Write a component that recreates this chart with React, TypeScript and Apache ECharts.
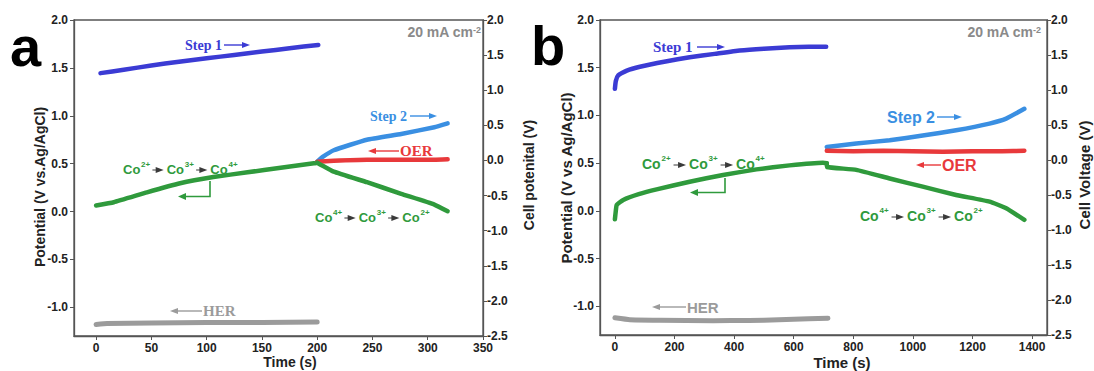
import { useEffect, useRef } from "react";
import * as echarts from "echarts";

// ---- Panel a: short galvanostatic run (time in s, potential in V vs Ag/AgCl) ----
const aStep1: [number, number][] = [
  [4, 1.445], [25, 1.48], [50, 1.525], [75, 1.565], [100, 1.6],
  [125, 1.635], [150, 1.67], [175, 1.705], [201, 1.74],
];
const aCharge: [number, number][] = [
  [0, 0.063], [16, 0.097], [46, 0.2], [76, 0.295], [106, 0.36],
  [137, 0.41], [167, 0.456], [197, 0.504], [200, 0.51],
];
const aHER: [number, number][] = [
  [0, -1.18], [10, -1.17], [50, -1.165], [100, -1.16], [150, -1.158], [200, -1.155],
];
const aStep2: [number, number][] = [
  [200, 0.52], [205, 0.57], [215, 0.64], [245, 0.75], [276, 0.81], [306, 0.88], [318, 0.92],
];
const aOER: [number, number][] = [
  [200, 0.52], [215, 0.53], [245, 0.54], [276, 0.54], [306, 0.54], [318, 0.545],
];
const aDischarge: [number, number][] = [
  [200, 0.51], [215, 0.417], [245, 0.306], [276, 0.185], [306, 0.073], [318, 0.003],
];

// ---- Panel b: long galvanostatic run ----
const bStep1: [number, number][] = [
  [0, 1.28], [3, 1.36], [11, 1.42], [40, 1.47], [84, 1.51], [170, 1.565],
  [251, 1.61], [335, 1.645], [419, 1.68], [500, 1.7], [586, 1.715], [650, 1.72], [709, 1.72],
];
const bCharge: [number, number][] = [
  [0, -0.087], [3, 0.0], [6, 0.063], [28, 0.115], [80, 0.175], [140, 0.226],
  [251, 0.306], [363, 0.376], [475, 0.435], [586, 0.477], [698, 0.504], [711, 0.5],
];
const bHER: [number, number][] = [
  [0, -1.12], [50, -1.14], [150, -1.145], [330, -1.15], [450, -1.148],
  [550, -1.14], [650, -1.13], [715, -1.125],
];
const bStep2: [number, number][] = [
  [711, 0.67], [810, 0.707], [922, 0.74], [1033, 0.79], [1145, 0.845],
  [1257, 0.915], [1313, 0.967], [1374, 1.07],
];
const bOER: [number, number][] = [
  [711, 0.63], [800, 0.625], [900, 0.63], [1000, 0.625], [1100, 0.62],
  [1200, 0.625], [1300, 0.625], [1374, 0.63],
];
const bDischarge: [number, number][] = [
  [711, 0.5], [712, 0.46], [810, 0.43], [922, 0.34], [1033, 0.254],
  [1145, 0.167], [1257, 0.097], [1313, 0.028], [1374, -0.094],
];

// ---- Tick labels ----
const aTimeTicks = [0, 50, 100, 150, 200, 250, 300, 350];
const bTimeTicks = [0, 200, 400, 600, 800, 1000, 1200, 1400];
const potentialTicks = [-1.0, -0.5, 0.0, 0.5, 1.0, 1.5, 2.0];

const C_STEP1 = "#3b3bd4";
const C_STEP2 = "#3a8fe2";
const C_OER = "#e8393b";
const C_GREEN = "#2f9a3c";
const C_HER = "#9b9b9b";
const AXIS = "#555";
const SANS = '"Liberation Sans", Arial, sans-serif';
const SERIF = '"Liberation Serif", "Times New Roman", serif';

function line(data: [number, number][], color: string, grid: number, width = 4.5) {
  return {
    type: "line",
    data,
    xAxisIndex: grid,
    yAxisIndex: grid * 2,
    showSymbol: false,
    smooth: 0.12,
    lineStyle: { color, width, cap: "round", join: "round" },
    silent: true,
    z: 3,
  };
}

function xAxis(grid: number, min: number, max: number, ticks: number[]) {
  return {
    type: "value",
    gridIndex: grid,
    min,
    max,
    axisLine: { show: true, onZero: false, lineStyle: { color: AXIS, width: 1.3 } },
    axisTick: { show: true, inside: false, length: 4, customValues: ticks, lineStyle: { color: AXIS } },
    axisLabel: {
      customValues: ticks,
      formatter: (v: number) => String(v),
      color: "#222",
      fontFamily: SANS,
      fontWeight: "bold",
      fontSize: 12,
      margin: 6,
    },
    splitLine: { show: false },
  };
}

function leftY(grid: number) {
  return {
    type: "value",
    gridIndex: grid,
    position: "left",
    min: -1.3,
    max: 2.0,
    axisLine: { show: true, onZero: false, lineStyle: { color: AXIS, width: 1.3 } },
    axisTick: { show: true, inside: false, length: 4, customValues: potentialTicks, lineStyle: { color: AXIS } },
    axisLabel: {
      customValues: potentialTicks,
      formatter: (v: number) => v.toFixed(1),
      color: "#222",
      fontFamily: SANS,
      fontWeight: "bold",
      fontSize: 12,
      margin: 6,
    },
    splitLine: { show: false },
  };
}

function rightY(grid: number) {
  return {
    type: "value",
    gridIndex: grid,
    position: "right",
    min: -2.5,
    max: 2.0,
    interval: 0.5,
    axisLine: { show: true, onZero: false, lineStyle: { color: AXIS, width: 1.3 } },
    axisTick: { show: true, inside: false, length: 4, lineStyle: { color: AXIS } },
    axisLabel: {
      formatter: (v: number) => v.toFixed(1),
      color: "#222",
      fontFamily: SANS,
      fontWeight: "bold",
      fontSize: 12,
      margin: 4,
      showMinLabel: true,
      showMaxLabel: true,
    },
    splitLine: { show: false },
  };
}

// Horizontal arrow: shaft from x1 to x2, head at x2
function arrow(x1: number, x2: number, y: number, color: string, w = 1.4) {
  const dir = x2 > x1 ? 1 : -1;
  return [
    { type: "line", shape: { x1, y1: y, x2: x2 - dir * 5, y2: y }, style: { stroke: color, lineWidth: w }, silent: true },
    {
      type: "polygon",
      shape: { points: [[x2, y], [x2 - dir * 8, y - 3], [x2 - dir * 8, y + 3]] },
      style: { fill: color },
      silent: true,
    },
  ];
}

function text(x: number, y: number, t: string, color: string, font: string, size: number, align = "left", extra: any = {}) {
  return {
    type: "text",
    x,
    y,
    silent: true,
    style: {
      text: t,
      fill: color,
      fontFamily: font,
      fontSize: size,
      fontWeight: "bold",
      align,
      verticalAlign: "middle",
      ...extra,
    },
  };
}

// "Co2+ → Co3+ → Co4+" style label; the reaction arrows are drawn as small shapes
function ionLabel(x: number, y: number, ions: string[], size: number) {
  const coW = size * 1.39;
  const supW = size * 0.6 * 1.2;
  const gap = size * 1.25;
  const items: any[] = [];
  let cx = x;
  ions.forEach((ch, i) => {
    if (i > 0) {
      items.push(...arrow(cx + 2, cx + gap - 3, y + 1, "#3a3a3a", 1));
      cx += gap;
    }
    items.push({
      type: "text",
      x: cx,
      y,
      silent: true,
      style: {
        text: "Co",
        fill: C_GREEN,
        fontFamily: SANS,
        fontWeight: "bold",
        fontSize: size,
        align: "left",
        verticalAlign: "middle",
      },
    });
    items.push({
      type: "text",
      x: cx + coW,
      y: y - size * 0.38,
      silent: true,
      style: {
        text: ch,
        fill: C_GREEN,
        fontFamily: SANS,
        fontWeight: "bold",
        fontSize: Math.round(size * 0.6),
        align: "left",
        verticalAlign: "middle",
      },
    });
    cx += coW + supW;
  });
  return items;
}

function current(xRight: number, y: number) {
  return {
    type: "text",
    x: xRight,
    y,
    silent: true,
    style: {
      text: "{m|20 mA cm}{s|-2}",
      align: "right",
      verticalAlign: "middle",
      rich: {
        m: { fill: "#8a8a8a", fontFamily: SANS, fontWeight: "bold", fontSize: 14, verticalAlign: "bottom" },
        s: { fill: "#8a8a8a", fontFamily: SANS, fontWeight: "bold", fontSize: 9, verticalAlign: "top" },
      },
    },
  };
}

function vText(x: number, y: number, t: string, size: number) {
  return {
    type: "text",
    x,
    y,
    rotation: Math.PI / 2,
    silent: true,
    style: {
      text: t,
      fill: "#222",
      fontFamily: SANS,
      fontWeight: "bold",
      fontSize: size,
      align: "center",
      verticalAlign: "middle",
    },
  };
}

function bracket(xv: number, yTop: number, yBot: number, xEnd: number) {
  return [
    {
      type: "polyline",
      shape: { points: [[xv, yTop], [xv, yBot], [xEnd + 6, yBot]] },
      style: { stroke: C_GREEN, lineWidth: 1.6, fill: null },
      silent: true,
    },
    {
      type: "polygon",
      shape: { points: [[xEnd, yBot], [xEnd + 8, yBot - 3.5], [xEnd + 8, yBot + 3.5]] },
      style: { fill: C_GREEN },
      silent: true,
    },
  ];
}

export default function App() {
  const ref = useRef<HTMLDivElement>(null);

  useEffect(() => {
    if (!ref.current) return;
    const chart = echarts.init(ref.current, null, { renderer: "svg" });

    const graphics: any[] = [
      // panel letters
      text(10, 46, "a", "#000", SANS, 56),
      text(531, 45, "b", "#000", SANS, 56),
      // axis titles
      vText(40, 187, "Potential (V vs.Ag/AgCl)", 14),
      vText(529, 175, "Cell potenital (V)", 14),
      vText(566, 178, "Potential (V vs Ag/AgCl)", 15),
      vText(1084, 175, "Cell Voltage (V)", 15),
      text(290, 362, "Time (s)", "#222", SANS, 14, "center"),
      text(842, 362, "Time (s)", "#222", SANS, 15, "center"),
      current(481, 32),
      current(1041, 32),

      // panel a annotations
      text(185, 45, "Step 1", C_STEP1, SERIF, 14),
      ...arrow(224, 250, 45, C_STEP1),
      text(370, 116, "Step 2", C_STEP2, SERIF, 14),
      ...arrow(410, 437, 116, C_STEP2),
      ...arrow(399, 368, 151, C_OER),
      text(400, 151, "OER", C_OER, SERIF, 15),
      ...arrow(202, 170, 311, C_HER),
      text(203, 311, "HER", C_HER, SERIF, 15),
      ...ionLabel(123, 169, ["2+", "3+", "4+"], 13),
      ...bracket(210, 181, 196.5, 178),
      ...ionLabel(315, 217, ["4+", "3+", "2+"], 13),

      // panel b annotations
      text(653, 47, "Step 1", C_STEP1, SERIF, 15),
      ...arrow(697, 725, 47, C_STEP1),
      text(887, 117, "Step 2", C_STEP2, SANS, 16),
      ...arrow(937, 962, 117, C_STEP2),
      ...arrow(941, 916, 165, C_OER),
      text(942, 165, "OER", C_OER, SANS, 16, "left", { letterSpacing: 1 }),
      ...arrow(686, 652, 307, C_HER),
      text(687, 307, "HER", C_HER, SANS, 15),
      ...ionLabel(642, 164, ["2+", "3+", "4+"], 14),
      ...bracket(725, 178, 192.5, 690),
      ...ionLabel(860, 216, ["4+", "3+", "2+"], 14),
    ];

    chart.setOption({
      animation: false,
      backgroundColor: "#fff",
      grid: [
        { left: 74, top: 20, width: 409, height: 316, show: true, borderColor: AXIS, borderWidth: 1.3, backgroundColor: "transparent" },
        { left: 600, top: 20, width: 447, height: 315, show: true, borderColor: AXIS, borderWidth: 1.3, backgroundColor: "transparent" },
      ],
      xAxis: [xAxis(0, -20, 350, aTimeTicks), xAxis(1, -50, 1450, bTimeTicks)],
      yAxis: [leftY(0), rightY(0), leftY(1), rightY(1)],
      series: [
        line(aHER, C_HER, 0, 5),
        line(aStep1, C_STEP1, 0),
        line(aCharge, C_GREEN, 0),
        line(aStep2, C_STEP2, 0),
        line(aOER, C_OER, 0),
        line(aDischarge, C_GREEN, 0),
        line(bHER, C_HER, 1, 5),
        line(bStep1, C_STEP1, 1),
        line(bCharge, C_GREEN, 1),
        line(bStep2, C_STEP2, 1),
        line(bOER, C_OER, 1),
        line(bDischarge, C_GREEN, 1),
      ],
      graphic: graphics,
    });

    return () => chart.dispose();
  }, []);

  return (
    <div
      ref={ref}
      style={{ position: "absolute", left: 0, top: 0, width: 1094, height: 371, background: "#fff" }}
    />
  );
}
